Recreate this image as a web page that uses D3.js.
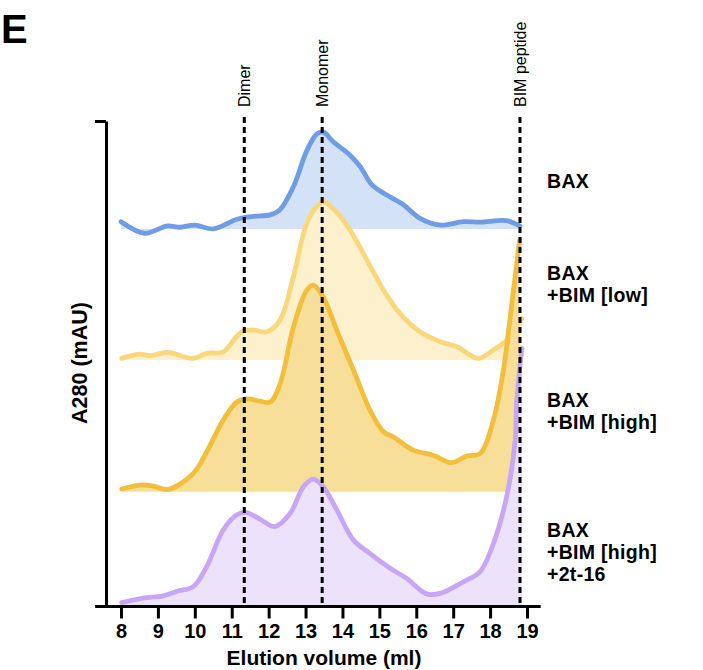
<!DOCTYPE html>
<html>
<head>
  <meta charset="utf-8">
  <title>Elution profiles</title>
  <script src="https://d3js.org/d3.v7.min.js"></script>
  <style>
    body { margin: 0; background: #fff; }
    text { font-family: "Liberation Sans", Arial, sans-serif; }
  </style>
</head>
<body>
<div id="chart"></div>
<script>
  // each trace: elution volume (ml) and A280 above its own baseline
  var baxVol  = [8.0, 8.65, 9.24, 9.6, 10.0, 10.5, 11.14, 11.59, 12.04, 12.3, 12.67, 13.03, 13.3, 13.48, 13.75, 14.2, 14.48, 14.8, 15.2, 15.65, 16.1, 16.65, 17.28, 17.73, 18.45, 18.81];
  var baxA280 = [1.5, -0.9, 0.6, 0.35, 0.8, 0.0, 2.0, 2.6, 2.9, 3.9, 8.7, 16.1, 19.6, 20.0, 18.0, 15.3, 12.9, 9.1, 7.0, 5.0, 2.2, 0.8, 1.5, 1.4, 1.7, 0.6];

  var lowVol  = [8.02, 8.51, 8.79, 9.24, 9.96, 10.32, 10.77, 11.09, 11.31, 11.59, 11.95, 12.31, 12.67, 13.03, 13.3, 13.48, 13.75, 14.2, 14.66, 15.11, 15.56, 16.1, 16.65, 17.1, 17.68, 18.09, 18.45, 18.86];
  var lowA280 = [0.35, 1.24, 0.9, 1.6, 0.35, 1.4, 1.7, 4.5, 6.0, 6.2, 5.85, 8.3, 17.2, 28.2, 31.7, 32.7, 31.3, 26.9, 20.7, 14.5, 9.6, 5.85, 3.8, 2.75, 0.35, 2.1, 4.1, 8.6];

  var highVol  = [8.02, 8.51, 8.87, 9.28, 9.96, 10.32, 10.77, 11.13, 11.4, 11.77, 12.04, 12.31, 12.67, 13.03, 13.21, 13.48, 13.85, 14.3, 14.75, 15.11, 15.38, 15.92, 16.47, 16.96, 17.37, 17.73, 18.09, 18.36, 18.59, 18.8];
  var highA280 = [0.56, 1.38, 1.18, 0.5, 3.77, 8.2, 14.8, 18.5, 19.2, 18.7, 18.5, 22.3, 34.0, 41.6, 42.7, 40.2, 33.3, 25.1, 16.8, 12.4, 11.3, 8.6, 7.5, 6.0, 7.4, 7.9, 14.8, 25.1, 38.9, 52.0];

  var inhVol  = [8.02, 8.6, 9.15, 9.5, 9.96, 10.32, 10.77, 11.13, 11.4, 11.77, 12.17, 12.58, 12.94, 13.21, 13.48, 13.85, 14.3, 14.75, 15.29, 15.74, 16.28, 16.65, 17.28, 17.73, 18.09, 18.45, 18.68, 18.72, 18.86];
  var inhA280 = [0.5, 1.4, 1.9, 2.8, 3.8, 7.9, 15.5, 18.6, 19.1, 17.7, 16.2, 18.9, 24.4, 26.0, 24.4, 19.6, 13.4, 10.6, 7.6, 5.5, 2.3, 2.4, 4.8, 6.9, 12.7, 22.4, 34.1, 41.7, 53.0];

  var traceOffsets = [77.7, 50.6, 23.4, 0];
  var traceLabels = [["BAX"], ["BAX", "+BIM [low]"], ["BAX", "+BIM [high]"], ["BAX", "+BIM [high]", "+2t-16"]];

  var markerNames = ["Dimer", "Monomer", "BIM peptide"];
  var markerVol = [11.34, 13.45, 18.81];

  var xTicks = [8, 9, 10, 11, 12, 13, 14, 15, 16, 17, 18, 19];

  var traces = [
    {vol: baxVol, a: baxA280, stroke: "#6e9de6", fill: "#d4e2f7"},
    {vol: lowVol, a: lowA280, stroke: "#fbd77c", fill: "#fdf0cc"},
    {vol: highVol, a: highA280, stroke: "#f2be3c", fill: "#f7df99"},
    {vol: inhVol, a: inhA280, stroke: "#c8a6f6", fill: "#ede2fc"}
  ];
  var labelBase = [188, 280, 407, 537];

  var width = 703, height = 670;

  var svg = d3.select("#chart").append("svg")
    .attr("width", width)
    .attr("height", height);

  var x = d3.scaleLinear().domain([8, 19]).range([121, 527]);
  var y = d3.scaleLinear().domain([0, 100]).range([605, 121]);

  // traces, top one first so lower ones sit over it
  traces.forEach(function(t, i) {
    var pts = t.vol.map(function(v, j) { return [v, t.a[j] + traceOffsets[i]]; });

    var area = d3.area()
      .x(function(d) { return x(d[0]); })
      .y0(y(traceOffsets[i]))
      .y1(function(d) { return y(d[1]); })
      .curve(d3.curveCatmullRom.alpha(0.5));

    var line = d3.line()
      .x(function(d) { return x(d[0]); })
      .y(function(d) { return y(d[1]); })
      .curve(d3.curveCatmullRom.alpha(0.5));

    svg.append("path")
      .attr("d", area(pts))
      .attr("fill", t.fill);

    svg.append("path")
      .attr("d", line(pts))
      .attr("fill", "none")
      .attr("stroke", t.stroke)
      .attr("stroke-width", 4.8)
      .attr("stroke-linecap", "round")
      .attr("stroke-linejoin", "round");

    var lab = svg.append("text")
      .attr("x", 547)
      .attr("y", labelBase[i])
      .attr("font-size", 19.5)
      .attr("font-weight", "bold")
      .attr("letter-spacing", 0.3);
    traceLabels[i].forEach(function(s, k) {
      lab.append("tspan")
        .attr("x", 547)
        .attr("dy", k == 0 ? 0 : 22)
        .text(s);
    });
  });

  // reference elution volumes
  markerVol.forEach(function(v, i) {
    svg.append("line")
      .attr("x1", x(v)).attr("x2", x(v))
      .attr("y1", 117).attr("y2", 604)
      .attr("stroke", "#000")
      .attr("stroke-width", 3)
      .attr("stroke-dasharray", "6,4");

    svg.append("text")
      .attr("transform", "translate(" + (x(v) + 6) + ",107) rotate(-90)")
      .attr("text-anchor", "start")
      .attr("font-size", 16)
      .text(markerNames[i]);
  });

  // x axis
  var xAxis = d3.axisBottom(x)
    .tickValues(xTicks)
    .tickFormat(d3.format("d"))
    .tickSize(12)
    .tickPadding(5);

  var gx = svg.append("g")
    .attr("transform", "translate(0,606.5)")
    .call(xAxis);
  gx.select(".domain").remove();
  gx.append("line")
    .attr("x1", x(7.3)).attr("x2", x(19.37))
    .attr("stroke", "#000")
    .attr("stroke-width", 3);
  gx.selectAll(".tick line").attr("stroke-width", 3);
  gx.selectAll(".tick text")
    .attr("font-size", 20)
    .attr("font-weight", "bold")
    .attr("font-family", "Liberation Sans, Arial, sans-serif")
    .attr("fill", "#000");

  // y axis: only a line with one tick at the top
  var yAxis = d3.axisLeft(y)
    .tickValues([100])
    .tickFormat("")
    .tickSize(11)
    .tickSizeOuter(0);

  var gy = svg.append("g")
    .attr("transform", "translate(106,0)")
    .call(yAxis);
  gy.select(".domain").attr("stroke-width", 3);
  gy.selectAll(".tick line").attr("stroke-width", 3);

  svg.append("text")
    .attr("x", 324)
    .attr("y", 665)
    .attr("text-anchor", "middle")
    .attr("font-size", 21)
    .attr("font-weight", "bold")
    .text("Elution volume (ml)");

  svg.append("text")
    .attr("transform", "translate(87,363) rotate(-90)")
    .attr("text-anchor", "middle")
    .attr("font-size", 21.5)
    .attr("font-weight", "bold")
    .text("A280 (mAU)");

  svg.append("text")
    .attr("x", 1)
    .attr("y", 43)
    .attr("font-size", 40)
    .attr("font-weight", "bold")
    .text("E");
</script>
</body>
</html>
